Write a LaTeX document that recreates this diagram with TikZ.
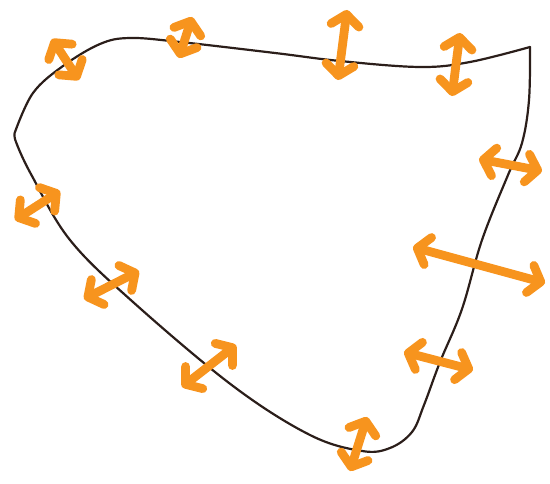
\documentclass[tikz,border=0pt]{standalone}
\usepackage{tikz}
\usepackage{xcolor}
\usetikzlibrary{arrows.meta}
\definecolor{fliporange}{HTML}{F7941E}
\definecolor{rimbrown}{HTML}{2B1E1A}

\begin{document}
\begin{tikzpicture}[
        x=0.05cm, y=-0.05cm,
        rim/.style={
          draw=rimbrown,
          line width=1.1mm,
          line join=round,
          line cap=round
        },
        flip/.style={
          {Straight Barb[length=5.5mm, width=14mm, round]}-{Straight Barb[length=5.5mm, width=14mm, round]},
          line width=4.4mm,
          line cap=round,
          fliporange
        }
      ]

      \useasboundingbox (0,0) rectangle (550,484);

      % outline of the region
      \draw[rim] plot[smooth, tension=0.6] coordinates {
          (15,132) (33,93) (63,66) (100,44) (130,38) (180,42) (275,53)
          (340,61) (420,67) (470,62) (530,47)};
      \draw[rim] plot[smooth, tension=0.6] coordinates {
          (530,47) (529,100) (522,143) (508,175) (482,240) (462,309)
          (440,362) (424,405) (412,432) (390,448) (362,451) (310,435)
          (233,386) (133,302) (70,240) (32,176) (16,142) (15,132)};

      % end points of the arrows
      \coordinate (tl1) at (52,39);   \coordinate (tl2) at (79,80);
      \coordinate (tp1) at (192,17);  \coordinate (tp2) at (179,58);
      \coordinate (tm1) at (347,10);  \coordinate (tm2) at (338,80);
      \coordinate (tr1) at (460,33);  \coordinate (tr2) at (452,96);
      \coordinate (ru1) at (479,159); \coordinate (ru2) at (542,171);
      \coordinate (rm1) at (413,247); \coordinate (rm2) at (545,283);
      \coordinate (rl1) at (404,352); \coordinate (rl2) at (473,370);
      \coordinate (bt1) at (367,417); \coordinate (bt2) at (350,471);
      \coordinate (bl1) at (236,345); \coordinate (bl2) at (182,387);
      \coordinate (ll1) at (139,271); \coordinate (ll2) at (84,299);
      \coordinate (lf1) at (60,191);  \coordinate (lf2) at (15,220);

      \draw[flip] (tl1) -- (tl2);
      \draw[flip] (tp1) -- (tp2);
      \draw[flip] (tm1) -- (tm2);
      \draw[flip] (tr1) -- (tr2);
      \draw[flip] (ru1) -- (ru2);
      \draw[flip] (rm1) -- (rm2);
      \draw[flip] (rl1) -- (rl2);
      \draw[flip] (bt1) -- (bt2);
      \draw[flip] (bl1) -- (bl2);
      \draw[flip] (ll1) -- (ll2);
      \draw[flip] (lf1) -- (lf2);

      \end{tikzpicture}
\end{document}
